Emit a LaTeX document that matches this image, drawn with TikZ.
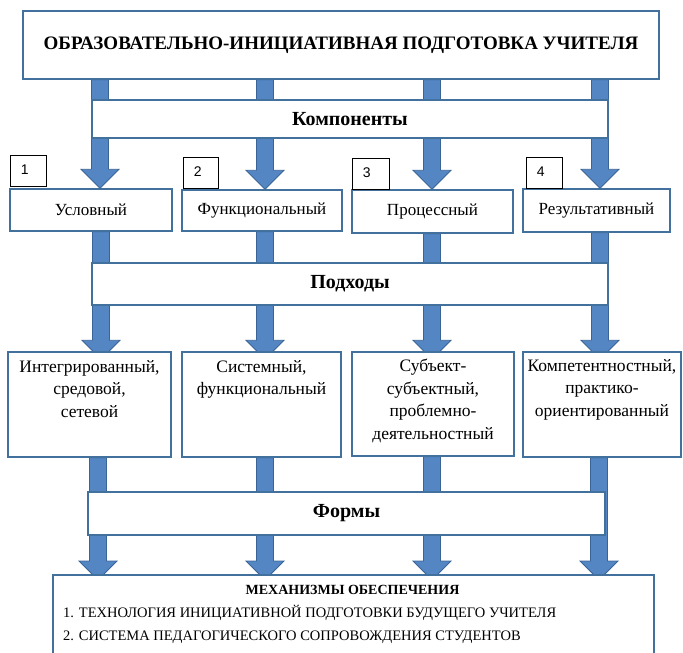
\documentclass[tikz,border=0pt]{standalone}
\usepackage{fontspec}
\setmainfont{Liberation Serif}
\newfontfamily\numfont{Liberation Sans}
\usetikzlibrary{calc}
\pgfdeclarelayer{bg}
\pgfsetlayers{bg,main}
\definecolor{boxline}{RGB}{65,113,156}
\definecolor{arrowfill}{RGB}{84,134,196}
\definecolor{arrowline}{RGB}{58,100,150}
\tikzset{
  box/.style={draw=boxline, line width=1.5pt, fill=white, inner sep=0pt},
  numbox/.style={draw=black, line width=0.8pt, fill=white, inner sep=0pt},
  numtxt/.style={font=\numfont\fontsize{14}{16}\selectfont, anchor=west, inner sep=0pt},
  bartxt/.style={font=\bfseries\fontsize{20}{22}\selectfont},
  comptxt/.style={font=\fontsize{17}{20}\selectfont},
  apptxt/.style={font=\fontsize{17.5}{22.5}\selectfont, align=center, anchor=north, inner sep=0pt},
  mechtxt/.style={font=\fontsize{14.5}{17}\selectfont, anchor=west, inner sep=0pt},
  barrow/.style={fill=arrowfill, draw=arrowline, line width=0.8pt, line join=miter}
}
\newcommand{\blockarrow}[4]{%
  \begin{pgfonlayer}{bg}
    \coordinate (ax) at (#1,0);
    \path (#2.south -| ax) coordinate (bas) (#3.north -| ax) coordinate (tip);
    \filldraw[barrow] let \p1=(bas), \p2=(tip) in
      ({\x1-8.5pt},\y1) -- ({\x1+8.5pt},\y1) -- ({\x1+8.5pt},{\y2-#4pt+19pt})
      -- ({\x1+19pt},{\y2-#4pt+19pt}) -- ({\x1},{\y2-#4pt})
      -- ({\x1-19pt},{\y2-#4pt+19pt}) -- ({\x1-8.5pt},{\y2-#4pt+19pt}) -- cycle;
  \end{pgfonlayer}
}
\begin{document}
\begin{tikzpicture}[x=1pt, y=-1pt]
\useasboundingbox (0,0) rectangle (683,653);
% title
\node[box, minimum width=636pt, minimum height=68pt, font=\bfseries\fontsize{19}{22}\selectfont] (title) at (341,45)
  {ОБРАЗОВАТЕЛЬНО-ИНИЦИАТИВНАЯ ПОДГОТОВКА УЧИТЕЛЯ};
% components bar
\node[box, minimum width=516pt, minimum height=38pt, bartxt] (komp) at (350,119) {Компоненты};
% component boxes
\node[box, minimum width=162pt, minimum height=42pt, comptxt] (c1) at (91,210) {Условный};
\node[box, minimum width=160pt, minimum height=41pt, comptxt] (c2) at (262,210.5) {Функциональный};
\node[box, minimum width=161pt, minimum height=43pt, comptxt] (c3) at (432.5,211.5) {Процессный};
\node[box, minimum width=147pt, minimum height=43pt, comptxt] (c4) at (596.5,210.5) {Результативный};
% number boxes
\node[numbox, minimum width=36pt, minimum height=31pt] (n1) at (28,170.5) {};
\node[numbox, minimum width=35pt, minimum height=31pt] (n2) at (200.5,172.5) {};
\node[numbox, minimum width=37pt, minimum height=31pt] (n3) at (370.5,174) {};
\node[numbox, minimum width=36pt, minimum height=31pt] (n4) at (544,172.5) {};
\node[numtxt] (n1t) at ([xshift=11pt,yshift=1pt]n1.west) {1};
\node[numtxt] (n2t) at ([xshift=11pt,yshift=1pt]n2.west) {2};
\node[numtxt] (n3t) at ([xshift=11pt,yshift=1pt]n3.west) {3};
\node[numtxt] (n4t) at ([xshift=11pt,yshift=1pt]n4.west) {4};
% approaches bar
\node[box, minimum width=516pt, minimum height=42pt, bartxt] (podh) at (350,284) {Подходы};
% approach boxes
\node[box, minimum width=163pt, minimum height=105pt] (a1) at (89.5,404.5) {};
\node[box, minimum width=159pt, minimum height=105pt] (a2) at (261.5,404.5) {};
\node[box, minimum width=162pt, minimum height=104pt] (a3) at (433,404) {};
\node[box, minimum width=158pt, minimum height=105pt] (a4) at (602,404.5) {};
\node[apptxt] (a1t) at ([yshift=-9pt]a1.north) {Интегрированный,\\средовой,\\сетевой};
\node[apptxt] (a2t) at ([yshift=-9pt]a2.north) {Системный,\\функциональный};
\node[apptxt] (a3t) at ([yshift=-8pt]a3.north) {Субъект-\\субъектный,\\проблемно-\\деятельностный};
\node[apptxt] (a4t) at ([yshift=-8pt]a4.north) {Компетентностный,\\практико-\\ориентированный};
% forms bar
\node[box, minimum width=517pt, minimum height=43pt, bartxt] (formy) at (346.5,513.5) {Формы};
% mechanisms box (cut by the page edge)
\begin{scope}
  \clip (0,0) rectangle (683,653);
  \node[box, minimum width=601pt, minimum height=95pt, anchor=north west] (mech) at (52,574) {};
\end{scope}
\node[font=\bfseries\fontsize{14}{16}\selectfont, inner sep=0pt] (mecht) at (352.5,590) {МЕХАНИЗМЫ ОБЕСПЕЧЕНИЯ};
\node[mechtxt] (m1) at (63,613) {1. ТЕХНОЛОГИЯ ИНИЦИАТИВНОЙ ПОДГОТОВКИ БУДУЩЕГО УЧИТЕЛЯ};
\node[mechtxt] (m2) at (63,637) {2. СИСТЕМА ПЕДАГОГИЧЕСКОГО СОПРОВОЖДЕНИЯ СТУДЕНТОВ};
% arrows
\blockarrow{100}{title}{c1}{0}
\blockarrow{265}{title}{c2}{0}
\blockarrow{432}{title}{c3}{0}
\blockarrow{600}{title}{c4}{0}
\blockarrow{101}{c1}{a1}{8}
\blockarrow{265}{c2}{a2}{8}
\blockarrow{432}{c3}{a3}{8}
\blockarrow{600}{c4}{a4}{8}
\blockarrow{98}{a1}{mech}{6}
\blockarrow{265}{a2}{mech}{6}
\blockarrow{432}{a3}{mech}{6}
\blockarrow{599}{a4}{mech}{6}
\end{tikzpicture}
\end{document}
